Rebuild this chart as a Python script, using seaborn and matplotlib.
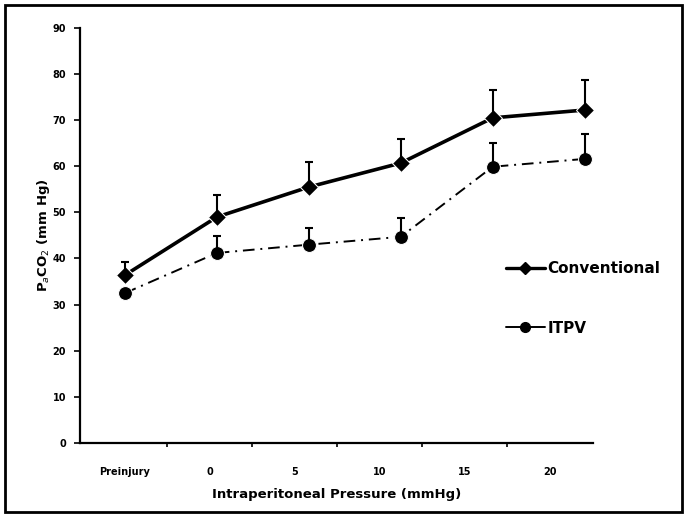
import numpy as np
import pandas as pd
import seaborn as sns
import matplotlib
matplotlib.use("Agg")
import matplotlib.pyplot as plt
from matplotlib.lines import Line2D
from matplotlib.patches import Rectangle

categories = ["Preinjury", "0", "5", "10", "15", "20"]
conventional = [36.4, 49.0, 55.5, 60.7, 70.5, 72.2]
conventional_sd = [2.9, 4.8, 5.5, 5.3, 6.1, 6.5]
itpv = [32.5, 41.2, 43.0, 44.7, 59.9, 61.6]
itpv_sd = [0.0, 3.7, 3.6, 4.1, 5.1, 5.4]
yticks = [0, 10, 20, 30, 40, 50, 60, 70, 80, 90]

sns.set_theme(style="ticks")
plt.rcParams['font.family'] = ['DejaVu Sans']
plt.rcParams['text.color'] = 'black'
plt.rcParams['axes.labelcolor'] = 'black'
plt.rcParams['xtick.color'] = 'black'
plt.rcParams['ytick.color'] = 'black'

fig = plt.figure(figsize=(6.87, 5.18), dpi=100)
ax = fig.add_axes([0.1164, 0.145, 0.7466, 0.801])

x = np.arange(len(categories))
df = pd.DataFrame({"x": np.concatenate([x, x]),
                   "y": conventional + itpv,
                   "series": ["Conventional"] * 6 + ["ITPV"] * 6})

sns.lineplot(data=df[df.series == "Conventional"], x="x", y="y", ax=ax,
             color="black", lw=2.6, marker="D", markersize=9, legend=False)
sns.lineplot(data=df[df.series == "ITPV"], x="x", y="y", ax=ax,
             color="black", lw=1.4, marker="o", markersize=10, legend=False,
             linestyle=(0, (6, 3, 1, 3)))

ax.errorbar(x, conventional, yerr=[np.zeros(6), conventional_sd], fmt="none",
            ecolor="black", elinewidth=1.5, capsize=3, capthick=1.5)
ax.errorbar(x, itpv, yerr=[np.zeros(6), itpv_sd], fmt="none",
            ecolor="black", elinewidth=1.5, capsize=3, capthick=1.5)

# category labels in the original are spaced slightly tighter than the points
label_scale = 85.0 / 92.0
ax.set_xticks(x * label_scale)
ax.set_xticklabels(categories, fontsize=7, fontweight="bold")
ax.set_xticks((np.arange(5) + 0.5) * label_scale, minor=True)
ax.set_xlim(-0.49, 5.09)
ax.set_ylim(0, 90)
ax.set_yticks(yticks)
ax.set_yticklabels([str(v) for v in yticks], fontsize=7, fontweight="bold")
ax.tick_params(axis="x", which="major", length=0, pad=17)
ax.tick_params(axis="x", which="minor", length=3, width=1.2, color="black")
ax.tick_params(axis="y", length=4, width=1.2, color="black", pad=6)
for s in ["top", "right"]:
    ax.spines[s].set_visible(False)
for s in ["left", "bottom"]:
    ax.spines[s].set_linewidth(1.6)
    ax.spines[s].set_color("black")

ax.set_xlabel("Intraperitoneal Pressure (mmHg)", fontsize=9.5, fontweight="bold", labelpad=8)
ax.set_ylabel("P$_a$CO$_2$ (mm Hg)", fontsize=9.5, fontweight="bold", labelpad=0)

handles = [Line2D([0], [0], color="black", lw=2.4, marker="D", markersize=6),
           Line2D([0], [0], color="black", lw=1.4, marker="o", markersize=7)]
fig.legend(handles, ["Conventional", "ITPV"], loc="upper left",
           bbox_to_anchor=(0.717, 0.522), frameon=False, handlelength=2.5,
           handletextpad=0.2, labelspacing=2.9,
           prop={"size": 11, "weight": "bold"})

fig.patches.append(Rectangle((0.008, 0.012), 0.984, 0.978, transform=fig.transFigure,
                             fill=False, edgecolor="black", lw=2))

fig.savefig("out.png", dpi=100)
